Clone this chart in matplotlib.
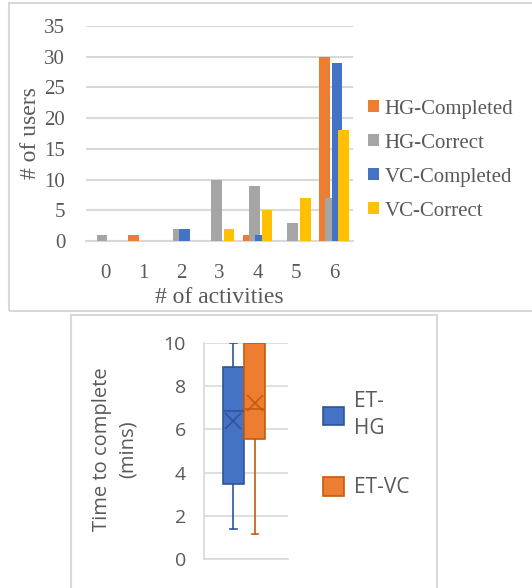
import matplotlib
matplotlib.use('Agg')
import matplotlib.pyplot as plt
from matplotlib.patches import Rectangle, Patch
import numpy as np

# data
activities = [0, 1, 2, 3, 4, 5, 6]
series_names = ['HG-Completed', 'HG-Correct', 'VC-Completed', 'VC-Correct']
hg_completed = [0, 1, 0, 0, 1, 0, 30]
hg_correct = [1, 0, 2, 10, 9, 3, 7]
vc_completed = [0, 0, 2, 0, 1, 0, 29]
vc_correct = [0, 0, 0, 2, 5, 7, 18]
y_ticks_top = [0, 5, 10, 15, 20, 25, 30, 35]

box_names = ['ET-\nHG', 'ET-VC']
box_whislo = [1.4, 1.15]
box_q1 = [3.45, 5.55]
box_med = [6.85, 6.95]
box_q3 = [8.9, 10.0]
box_whishi = [10.0, 10.0]
box_mean = [6.4, 7.2]
y_ticks_bot = [0, 2, 4, 6, 8, 10]

colors = ['#ED7D31', '#A5A5A5', '#4472C4', '#FFC000']
box_face = ['#4472C4', '#ED7D31']
box_edge = ['#2F5597', '#C55A11']
txt = '#595959'
grid = '#D9D9D9'

W, H = 532, 588
fig = plt.figure(figsize=(W / 100, H / 100), dpi=100)


def fr(x0, y0, x1, y1):
    # pixel box (top-left origin) -> figure fraction rect
    return [x0 / W, 1 - y1 / H, (x1 - x0) / W, (y1 - y0) / H]


# panel borders
for (x0, y0, x1, y1) in [(9, 3, 540, 311), (71, 315, 437, 600)]:
    r = fr(x0, y0, x1, y1)
    fig.add_artist(Rectangle((r[0], r[1]), r[2], r[3], transform=fig.transFigure,
                             fill=False, ec=grid, lw=1.5))

# ---- top: grouped bars ----
ax = fig.add_axes(fr(86, 26, 353, 241))
serif = 'Liberation Serif'
step = 0.165
bw = 0.28
x = np.array(activities)
all_series = [hg_completed, hg_correct, vc_completed, vc_correct]
for i, (vals, name) in enumerate(zip(all_series, series_names)):
    ax.bar(x + (i - 1.5) * step, vals, width=bw, color=colors[i], label=name, zorder=3 + i)
ax.set_xlim(-0.5, 6.5)
ax.set_ylim(0, 35)
ax.set_yticks(y_ticks_top)
ax.set_xticks(activities)
ax.yaxis.grid(True, color=grid, lw=1.5, zorder=0)
for s in ['top', 'right', 'left']:
    ax.spines[s].set_visible(False)
ax.spines['bottom'].set_color(grid)
ax.spines['bottom'].set_linewidth(1.5)
ax.tick_params(length=0, labelsize=15, labelcolor=txt)
ax.tick_params(axis='y', pad=15)
ax.tick_params(axis='x', pad=16.5)
for lab in ax.get_xticklabels() + ax.get_yticklabels():
    lab.set_fontfamily(serif)
ax.set_xlabel('# of activities', fontsize=17, color=txt, family=serif, labelpad=3)
ax.set_ylabel('# of users', fontsize=17, color=txt, family=serif, labelpad=2)
ax.legend(loc='center left', bbox_to_anchor=(368 / W, 1 - 160 / H),
          bbox_transform=fig.transFigure, frameon=False,
          prop={'family': serif, 'size': 15}, labelcolor=txt,
          handlelength=0.55, handleheight=0.55, handletextpad=0.25,
          labelspacing=0.72, borderpad=0, borderaxespad=0)

# ---- bottom: box plot ----
sans = 'Open Sans'
ax2 = fig.add_axes(fr(204, 343, 288, 559))
stats = []
for i in range(2):
    stats.append(dict(whislo=box_whislo[i], q1=box_q1[i], med=box_med[i], q3=box_q3[i],
                      whishi=box_whishi[i], mean=box_mean[i], fliers=[], label=box_names[i]))
pos = [1.37, 2.37]
for i in range(2):
    ax2.bxp([stats[i]], positions=[pos[i]], widths=0.98, patch_artist=True,
            showmeans=True, showfliers=False,
            boxprops=dict(facecolor=box_face[i], edgecolor=box_edge[i], lw=1.2),
            medianprops=dict(color=box_edge[i], lw=1.2),
            whiskerprops=dict(color=box_edge[i], lw=1.2),
            capprops=dict(color=box_edge[i], lw=1.2),
            capwidths=0.3,
            meanprops=dict(marker='x', markeredgecolor=box_edge[i], markersize=11, mew=1.2),
            zorder=3)
ax2.set_xlim(0, 84 / 21.5)
ax2.set_ylim(0, 10)
ax2.set_yticks(y_ticks_bot)
ax2.set_xticks([])
ax2.yaxis.grid(True, color=grid, lw=1.2, zorder=0)
for s in ['top', 'right']:
    ax2.spines[s].set_visible(False)
for s in ['left', 'bottom']:
    ax2.spines[s].set_color(grid)
    ax2.spines[s].set_linewidth(1.2)
ax2.tick_params(length=0, labelsize=14, labelcolor=txt, pad=13)
for lab in ax2.get_yticklabels():
    lab.set_fontfamily(sans)
fig.text(115 / W, 1 - 449 / H, 'Time to complete\n(mins)', rotation=90, ha='center',
         va='center', multialignment='center', fontsize=14.5, color=txt, family=sans,
         linespacing=1.4)
handles = [Patch(facecolor=box_face[i], edgecolor=box_edge[i], lw=1.2) for i in range(2)]
leg = ax2.legend(handles, box_names, loc='upper left', bbox_to_anchor=(323 / W, 1 - 391 / H),
                 bbox_transform=fig.transFigure, frameon=False,
                 prop={'family': sans, 'size': 15}, labelcolor=txt,
                 handlelength=1.0, handleheight=1.0, handletextpad=0.5,
                 labelspacing=1.8, borderpad=0, borderaxespad=0)
for t in leg.get_texts():
    t.set_linespacing(1.4)

fig.savefig('out.png', dpi=100)
